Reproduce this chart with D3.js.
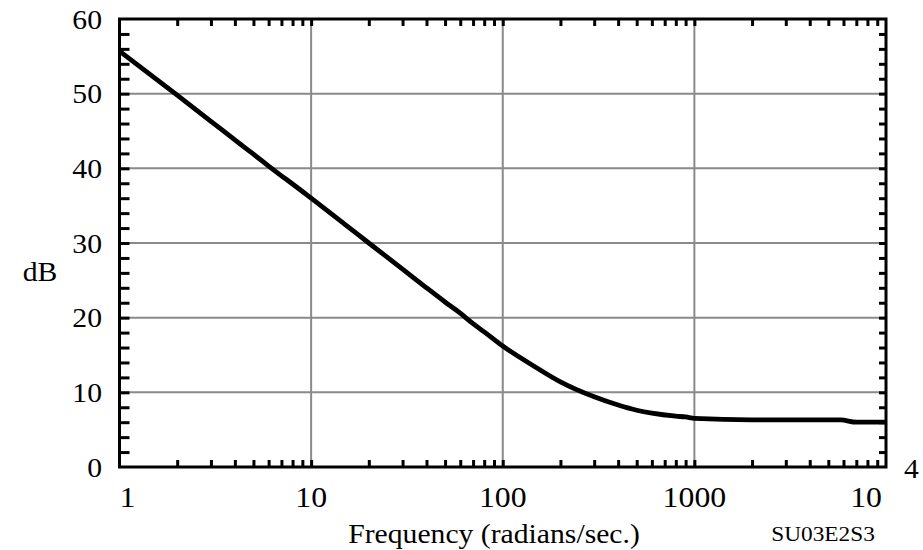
<!DOCTYPE html>
<html>
<head>
<meta charset="utf-8">
<script src="https://cdn.jsdelivr.net/npm/d3@7"></script>
<style>
  body { margin: 0; background: #fff; }
  text { font-family: "Liberation Serif", "Times New Roman", serif; fill: #000; }
</style>
</head>
<body>
<div id="plot"></div>
<script>
// values
var freq = [1, 2, 3, 4, 5, 6, 7, 8, 10, 15, 20, 30, 40, 50, 60, 70, 80, 100, 150, 200, 300, 400, 500, 600, 800, 900, 1000, 2000, 4000, 5800, 7000, 10000];
var dB = [55.7, 49.8, 46.3, 43.8, 41.9, 40.3, 39.0, 37.9, 36.0, 32.5, 30.0, 26.5, 24.0, 22.1, 20.6, 19.2, 18.1, 16.2, 13.3, 11.4, 9.4, 8.3, 7.6, 7.2, 6.8, 6.7, 6.5, 6.3, 6.3, 6.3, 6.0, 6.0];
var xDecades = [1, 10, 100, 1000, 10000];
var xTickLabels = ['1', '10', '100', '1000', '10'];
var yTicks = [0, 10, 20, 30, 40, 50, 60];

var svgwidth = 923;
var svgheight = 550;

var svg = d3.select('#plot').append('svg')
    .attr('width', svgwidth)
    .attr('height', svgheight);

var xScale = d3.scaleLog().domain([1, 10000]).range([119.5, 886]);
var yScale = d3.scaleLinear().domain([0, 60]).range([467, 19]);

var gray = '#8a8a8a';

// grid lines
svg.selectAll('.vgrid').data(xDecades.slice(1, 4)).enter().append('line')
    .attr('x1', function(d){ return xScale(d); })
    .attr('x2', function(d){ return xScale(d); })
    .attr('y1', yScale(0))
    .attr('y2', yScale(60))
    .style('stroke', gray)
    .style('stroke-width', 2);

svg.selectAll('.hgrid').data(yTicks.slice(1, 6)).enter().append('line')
    .attr('x1', xScale(1))
    .attr('x2', xScale(10000))
    .attr('y1', function(d){ return yScale(d); })
    .attr('y2', function(d){ return yScale(d); })
    .style('stroke', gray)
    .style('stroke-width', 2);

// minor ticks on log axis (top + bottom)
var minor = [];
for (var k = 0; k < 4; k++) {
    for (var m = 2; m <= 9; m++) minor.push(m * Math.pow(10, k));
}
var xTicksAll = minor.concat(xDecades.slice(1, 4));

var axisTop = d3.axisBottom(xScale).tickValues(xTicksAll).tickSize(7).tickFormat('');
var axisBottom = d3.axisTop(xScale).tickValues(xTicksAll).tickSize(7).tickFormat('');
var yMinor = d3.range(2, 60, 2);
var axisLeft = d3.axisRight(yScale).tickValues(yMinor).tickSize(10).tickFormat('');
var axisRight = d3.axisLeft(yScale).tickValues(yMinor).tickSize(7).tickFormat('');

svg.append('g').call(axisTop).attr('transform', 'translate(0,' + yScale(60) + ')');
svg.append('g').call(axisBottom).attr('transform', 'translate(0,' + yScale(0) + ')');
svg.append('g').call(axisLeft).attr('transform', 'translate(' + xScale(1) + ',0)');
svg.append('g').call(axisRight).attr('transform', 'translate(' + xScale(10000) + ',0)');

svg.selectAll('.tick line').style('stroke', '#000').style('stroke-width', 3);
svg.selectAll('.domain').remove();

// frame
svg.append('rect')
    .attr('x', xScale(1))
    .attr('y', yScale(60))
    .attr('width', xScale(10000) - xScale(1))
    .attr('height', yScale(0) - yScale(60))
    .style('fill', 'none')
    .style('stroke', '#000')
    .style('stroke-width', 3);

// curve
var pts = freq.map(function(f, i){ return [f, dB[i]]; });
var line = d3.line()
    .x(function(d){ return xScale(d[0]); })
    .y(function(d){ return yScale(d[1]); })
    .curve(d3.curveMonotoneX);

svg.append('path')
    .datum(pts)
    .attr('d', line)
    .style('fill', 'none')
    .style('stroke', '#000')
    .style('stroke-width', 4.8)
    .style('stroke-linejoin', 'round');

// labels
function addText(x, y, str, size, anchor) {
    return svg.append('text')
        .attr('transform', 'translate(' + x + ',' + y + ') scale(1.06,1)')
        .attr('text-anchor', anchor)
        .style('font-size', size + 'px')
        .text(str);
}

yTicks.forEach(function(v){
    addText(102, yScale(v) + 9.5, String(v), 28, 'end');
});

xDecades.forEach(function(v, i){
    var x = xScale(v);
    if (i == 0) x = x + 8;
    if (i == 4) { addText(x - 4, 507, xTickLabels[i], 30, 'end'); return; }
    addText(x, 507, xTickLabels[i], 30, 'middle');
});
addText(904, 478, '4', 28, 'start');

addText(40, 281, 'dB', 28, 'middle');
addText(494, 543, 'Frequency (radians/sec.)', 28, 'middle');
addText(823, 541, 'SU03E2S3', 22, 'middle');
</script>
</body>
</html>
